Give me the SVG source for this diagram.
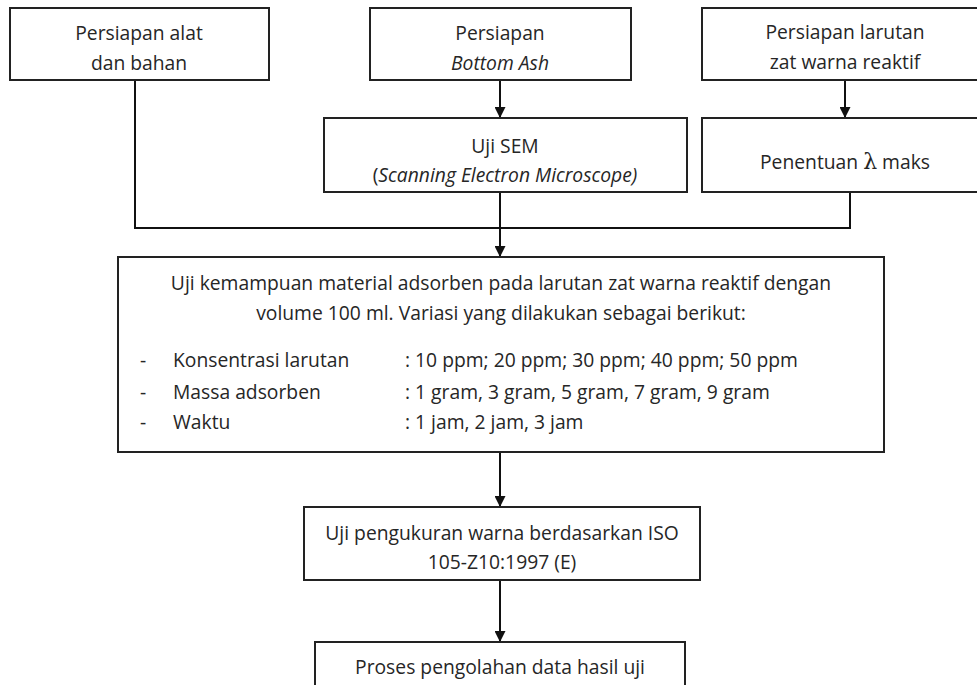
<svg xmlns="http://www.w3.org/2000/svg" width="977" height="685" viewBox="0 0 977 685">
<defs>
<marker id="arr" viewBox="0 0 10 10" refX="10" refY="5" markerWidth="13" markerHeight="11" markerUnits="userSpaceOnUse" orient="auto">
<path d="M0,0 L10,5 L0,10 z" fill="#111"/>
</marker>
<style>
.box{fill:#fff;stroke:#222;stroke-width:2}
.t{font-family:"Open Sans","Noto Sans",sans-serif;font-size:19.3px;fill:#262626;text-anchor:middle}
.l{font-family:"Open Sans","Noto Sans",sans-serif;font-size:19.3px;fill:#262626}
.c{fill:none;stroke:#111;stroke-width:2}
</style>
</defs>
<rect width="977" height="685" fill="#fff"/>
<g id="connectors">
<path class="c" d="M135,80 V228 H850 V192"/>
<path class="c" d="M500,192 V228"/>
<path class="c" d="M500,228 V257" marker-end="url(#arr)"/>
<path class="c" d="M500,80 V118" marker-end="url(#arr)"/>
<path class="c" d="M845,80 V118" marker-end="url(#arr)"/>
<path class="c" d="M500,452 V507" marker-end="url(#arr)"/>
<path class="c" d="M500,580 V642" marker-end="url(#arr)"/>
</g>
<g id="n1"><rect class="box" x="10" y="8" width="259" height="72"/>
<text class="t" x="139" y="40">Persiapan alat</text><text class="t" x="139" y="70">dan bahan</text></g>
<g id="n2"><rect class="box" x="370" y="8" width="261" height="72"/>
<text class="t" x="500" y="40">Persiapan</text><text class="t" x="500" y="70" font-style="italic">Bottom Ash</text></g>
<g id="n3"><rect class="box" x="702" y="8" width="290" height="72"/>
<text class="t" x="845" y="39">Persiapan larutan</text><text class="t" x="845" y="69">zat warna reaktif</text></g>
<g id="n4"><rect class="box" x="324" y="118" width="363" height="74"/>
<text class="t" x="505" y="153">Uji SEM</text><text class="t" x="505" y="182">(<tspan font-style="italic">Scanning Electron Microscope)</tspan></text></g>
<g id="n5"><rect class="box" x="702" y="118" width="290" height="74"/>
<text class="t" x="845" y="169">Penentuan <tspan font-family="'DejaVu Serif',serif" font-size="22">λ</tspan> maks</text></g>
<g id="n6"><rect class="box" x="118" y="257" width="766" height="195"/>
<text class="t" x="501" y="290">Uji kemampuan material adsorben pada larutan zat warna reaktif dengan</text>
<text class="t" x="501" y="320">volume 100 ml. Variasi yang dilakukan sebagai berikut:</text>
<text class="l" x="140" y="367">-</text><text class="l" x="173" y="367">Konsentrasi larutan</text><text class="l" x="405" y="367">: 10 ppm; 20 ppm; 30 ppm; 40 ppm; 50 ppm</text>
<text class="l" x="140" y="399">-</text><text class="l" x="173" y="399">Massa adsorben</text><text class="l" x="405" y="399">: 1 gram, 3 gram, 5 gram, 7 gram, 9 gram</text>
<text class="l" x="140" y="429">-</text><text class="l" x="173" y="429">Waktu</text><text class="l" x="405" y="429">: 1 jam, 2 jam, 3 jam</text></g>
<g id="n7"><rect class="box" x="304" y="507" width="396" height="73"/>
<text class="t" x="502" y="540">Uji pengukuran warna berdasarkan ISO</text><text class="t" x="502" y="569">105-Z10:1997 (E)</text></g>
<g id="n8"><rect class="box" x="315" y="642" width="370" height="60"/>
<text class="t" x="500" y="674">Proses pengolahan data hasil uji</text></g>
</svg>
